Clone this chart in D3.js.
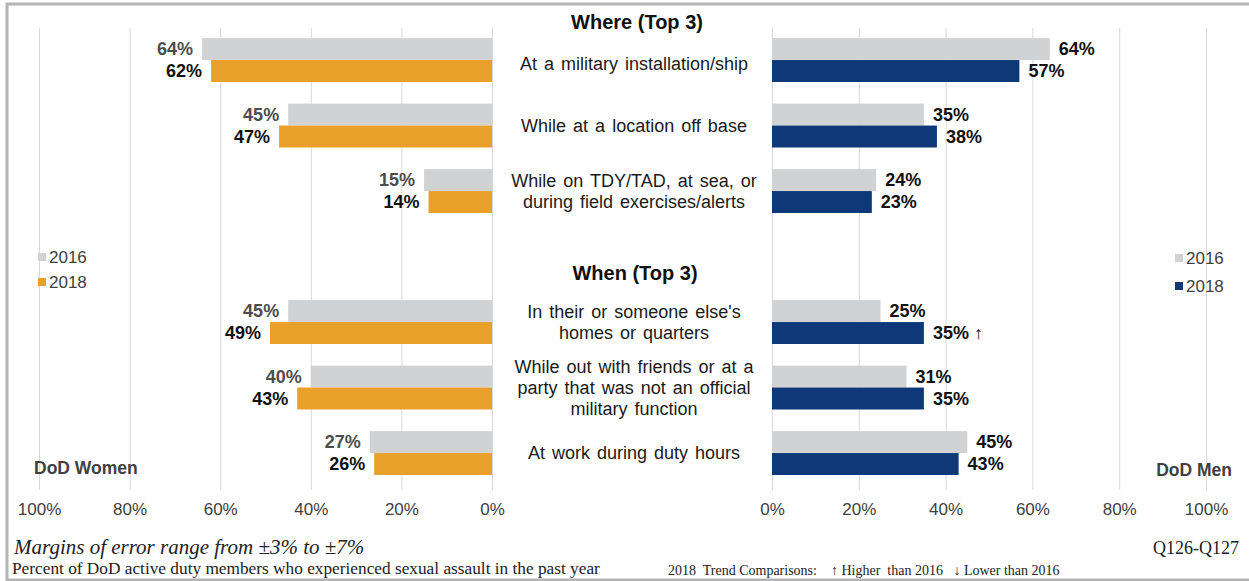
<!DOCTYPE html>
<html>
<head>
<meta charset="utf-8">
<script src="https://cdn.jsdelivr.net/npm/d3@7"></script>
<style>
  body { margin: 0; background: #fff; }
  svg { display: block; }
  text { font-family: "Liberation Sans", Arial, sans-serif; }
  .serif { font-family: "Liberation Serif", "Times New Roman", serif; }
</style>
</head>
<body>
<div id="chart"></div>
<script>
// categories (each label split into its lines)
const categories = [
    ["At a military installation/ship"],
    ["While at a location off base"],
    ["While on TDY/TAD, at sea, or", "during field exercises/alerts"],
    ["In their or someone else's", "homes or quarters"],
    ["While out with friends or at a", "party that was not an official", "military function"],
    ["At work during duty hours"]
];
const sectionTitles = ["Where (Top 3)", "When (Top 3)"];
const years = ["2016", "2018"];

const women2016 = [64, 45, 15, 45, 40, 27];
const women2018 = [62, 47, 14, 49, 43, 26];
const men2016 = [64, 35, 24, 25, 31, 45];
const men2018 = [57, 38, 23, 35, 35, 43];
const men2018Trend = ["", "", "", "↑", "", ""];

const xTicks = [0, 20, 40, 60, 80, 100];

const win_width = 1249, win_height = 581;

const colors = {
    "2016": "#d0d2d4",
    women: "#e8a02a",
    men: "#0e3877"
};

let svg = d3.select("#chart")
    .append("svg")
    .attr("width", win_width)
    .attr("height", win_height);

// frame
svg.append("rect")
    .attr("x", 7).attr("y", 4)
    .attr("width", win_width + 10).attr("height", win_height - 5)
    .attr("fill", "none")
    .attr("stroke", "#b4b4b4")
    .attr("stroke-width", 3);

// rows: the "When" heading takes its own empty slot between the two sections
const slots = [0, 1, 2, "when", 3, 4, 5];

const y = d3.scaleBand()
    .domain(slots)
    .range([27.3, 485.8])
    .paddingInner(0.33)
    .paddingOuter(0.165);

const yYear = d3.scaleBand()
    .domain(years)
    .range([0, y.bandwidth()]);

// left (women) and right (men) scales
const xW = d3.scaleLinear().domain([0, 100]).range([492, 39]);
const xM = d3.scaleLinear().domain([0, 100]).range([772, 1206]);

const gridTop = 28, gridBottom = 490;

// grid lines and tick labels
function drawAxis(x) {
    let g = svg.append("g")
        .attr("transform", "translate(0," + gridBottom + ")")
        .call(d3.axisBottom(x).tickValues(xTicks).tickFormat(d => d + "%").tickSize(-(gridBottom - gridTop)).tickPadding(9));
    g.select(".domain").remove();
    g.selectAll(".tick line").attr("stroke", "#d9d9d9");
    g.selectAll(".tick text")
        .attr("fill", "#404040")
        .style("font-size", "17px")
        .attr("dy", "0.95em");
}
drawAxis(xW);
drawAxis(xM);

// build rows
const rows = categories.map((c, i) => ({
    idx: i,
    lines: c,
    w16: women2016[i], w18: women2018[i],
    m16: men2016[i], m18: men2018[i],
    trend: men2018Trend[i]
}));

const valueSize = "18px";

// women bars
let wg = svg.append("g");
rows.forEach(r => {
    const y0 = y(r.idx);
    wg.append("rect")
        .attr("x", xW(r.w16)).attr("y", y0 + yYear("2016"))
        .attr("width", xW(0) - xW(r.w16)).attr("height", yYear.bandwidth())
        .attr("fill", colors["2016"]);
    wg.append("rect")
        .attr("x", xW(r.w18)).attr("y", y0 + yYear("2018"))
        .attr("width", xW(0) - xW(r.w18)).attr("height", yYear.bandwidth())
        .attr("fill", colors.women);
    wg.append("text")
        .attr("x", xW(r.w16) - 9).attr("y", y0 + yYear("2016") + yYear.bandwidth() / 2)
        .attr("dy", "0.35em")
        .attr("text-anchor", "end")
        .style("font-size", valueSize).style("font-weight", "bold")
        .attr("fill", "#4d4d4d")
        .text(r.w16 + "%");
    wg.append("text")
        .attr("x", xW(r.w18) - 9).attr("y", y0 + yYear("2018") + yYear.bandwidth() / 2)
        .attr("dy", "0.35em")
        .attr("text-anchor", "end")
        .style("font-size", valueSize).style("font-weight", "bold")
        .attr("fill", "#111")
        .text(r.w18 + "%");
});

// men bars
let mg = svg.append("g");
rows.forEach(r => {
    const y0 = y(r.idx);
    mg.append("rect")
        .attr("x", xM(0)).attr("y", y0 + yYear("2016"))
        .attr("width", xM(r.m16) - xM(0)).attr("height", yYear.bandwidth())
        .attr("fill", colors["2016"]);
    mg.append("rect")
        .attr("x", xM(0)).attr("y", y0 + yYear("2018"))
        .attr("width", xM(r.m18) - xM(0)).attr("height", yYear.bandwidth())
        .attr("fill", colors.men);
    mg.append("text")
        .attr("x", xM(r.m16) + 9).attr("y", y0 + yYear("2016") + yYear.bandwidth() / 2)
        .attr("dy", "0.35em")
        .style("font-size", valueSize).style("font-weight", "bold")
        .attr("fill", "#111")
        .text(r.m16 + "%");
    let t = mg.append("text")
        .attr("x", xM(r.m18) + 9).attr("y", y0 + yYear("2018") + yYear.bandwidth() / 2)
        .attr("dy", "0.35em")
        .style("font-size", valueSize).style("font-weight", "bold")
        .attr("fill", "#111")
        .text(r.m18 + "%");
    if (r.trend) {
        t.append("tspan").style("font-weight", "normal").text(" " + r.trend);
    }
});

// category labels in the middle
const labelX = 634;
const lineH = 21;
let cg = svg.append("g");
rows.forEach(r => {
    const cy = y(r.idx) + y.bandwidth() / 2 + (r.idx === 0 ? 4 : 0);
    const n = r.lines.length;
    let t = cg.append("text")
        .attr("text-anchor", "middle")
        .style("font-size", "18px")
        .style("word-spacing", "2px")
        .attr("fill", "#1a1a1a");
    r.lines.forEach((line, j) => {
        t.append("tspan")
            .attr("x", labelX)
            .attr("y", cy + (j - (n - 1) / 2) * lineH)
            .attr("dy", "0.35em")
            .text(line);
    });
});

// section titles
svg.append("text")
    .attr("x", 637).attr("y", gridTop - 6)
    .attr("dy", "0.35em")
    .attr("text-anchor", "middle")
    .style("font-size", "20px").style("font-weight", "bold")
    .attr("fill", "#111")
    .text(sectionTitles[0]);
svg.append("text")
    .attr("x", 635).attr("y", y("when") + y.bandwidth() / 2 + 16)
    .attr("dy", "0.35em")
    .attr("text-anchor", "middle")
    .style("font-size", "20px").style("font-weight", "bold")
    .attr("fill", "#111")
    .text(sectionTitles[1]);

// legends
function drawLegend(x0, y0, col2018, gap) {
    let lg = svg.append("g").attr("transform", "translate(" + x0 + "," + y0 + ")");
    years.forEach((yr, i) => {
        lg.append("rect")
            .attr("x", 0).attr("y", i * gap - 4)
            .attr("width", 8).attr("height", 8)
            .attr("fill", yr === "2016" ? colors["2016"] : col2018);
        lg.append("text")
            .attr("x", 11).attr("y", i * gap)
            .attr("dy", "0.35em")
            .style("font-size", "17px")
            .attr("fill", "#404040")
            .text(yr);
    });
}
drawLegend(38, 257, colors.women, 25);
drawLegend(1175, 258, colors.men, 28);

// panel names
svg.append("text")
    .attr("x", 34).attr("y", 468).attr("dy", "0.35em")
    .style("font-size", "17.5px").style("font-weight", "bold")
    .attr("fill", "#404040")
    .text("DoD Women");
svg.append("text")
    .attr("x", 1232).attr("y", 470).attr("dy", "0.35em")
    .attr("text-anchor", "end")
    .style("font-size", "17.5px").style("font-weight", "bold")
    .attr("fill", "#404040")
    .text("DoD Men");

// footer notes
svg.append("text").attr("class", "serif")
    .attr("x", 14).attr("y", 554)
    .style("font-size", "21px").style("font-style", "italic")
    .attr("fill", "#222")
    .text("Margins of error range from ±3% to ±7%");
svg.append("text").attr("class", "serif")
    .attr("x", 12).attr("y", 574)
    .style("font-size", "17.3px")
    .attr("fill", "#222")
    .text("Percent of DoD active duty members who experienced sexual assault in the past year");
svg.append("text").attr("class", "serif")
    .attr("x", 1239).attr("y", 554)
    .attr("text-anchor", "end")
    .style("font-size", "18px")
    .attr("fill", "#222")
    .text("Q126-Q127");
svg.append("text").attr("class", "serif")
    .attr("x", 668).attr("y", 575)
    .style("font-size", "14px")
    .style("white-space", "pre")
    .attr("fill", "#222")
    .text("2018  Trend Comparisons:    ↑ Higher  than 2016   ↓ Lower than 2016");
</script>
</body>
</html>
